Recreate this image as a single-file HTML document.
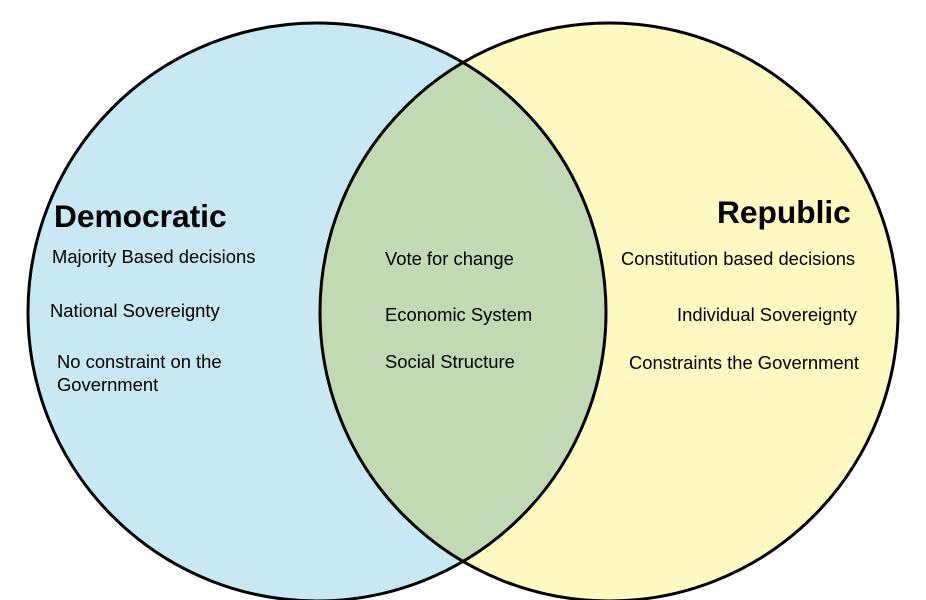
<!DOCTYPE html>
<html><head><style>
body{margin:0;background:#fff;}
svg{display:block}
text{font-family:"Liberation Sans",Arial,sans-serif;fill:#000}
</style></head><body>
<svg width="926" height="600" viewBox="0 0 926 600">
<defs><clipPath id="c"><circle cx="317" cy="312" r="289"/></clipPath></defs>
<circle cx="317" cy="312" r="289" fill="#c8e8f3"/>
<circle cx="609" cy="312" r="289" fill="#fef9c1"/>
<circle cx="609" cy="312" r="289" fill="#c1dab4" clip-path="url(#c)"/>
<circle cx="317" cy="312" r="289" fill="none" stroke="#000" stroke-width="3"/>
<circle cx="609" cy="312" r="289" fill="none" stroke="#000" stroke-width="3"/>
<text x="54" y="227" font-size="31.7" font-weight="bold">Democratic</text>
<text x="717" y="223" font-size="31.7" font-weight="bold">Republic</text>
<g font-size="18.4">
<text x="52" y="263">Majority Based decisions</text>
<text x="50" y="317">National Sovereignty</text>
<text x="57" y="368">No constraint on the</text>
<text x="57" y="391">Government</text>
<text x="385" y="265">Vote for change</text>
<text x="385" y="321">Economic System</text>
<text x="385" y="368">Social Structure</text>
<text x="621" y="265">Constitution based decisions</text>
<text x="677" y="321">Individual Sovereignty</text>
<text x="629" y="369">Constraints the Government</text>
</g>
</svg>
</body></html>
